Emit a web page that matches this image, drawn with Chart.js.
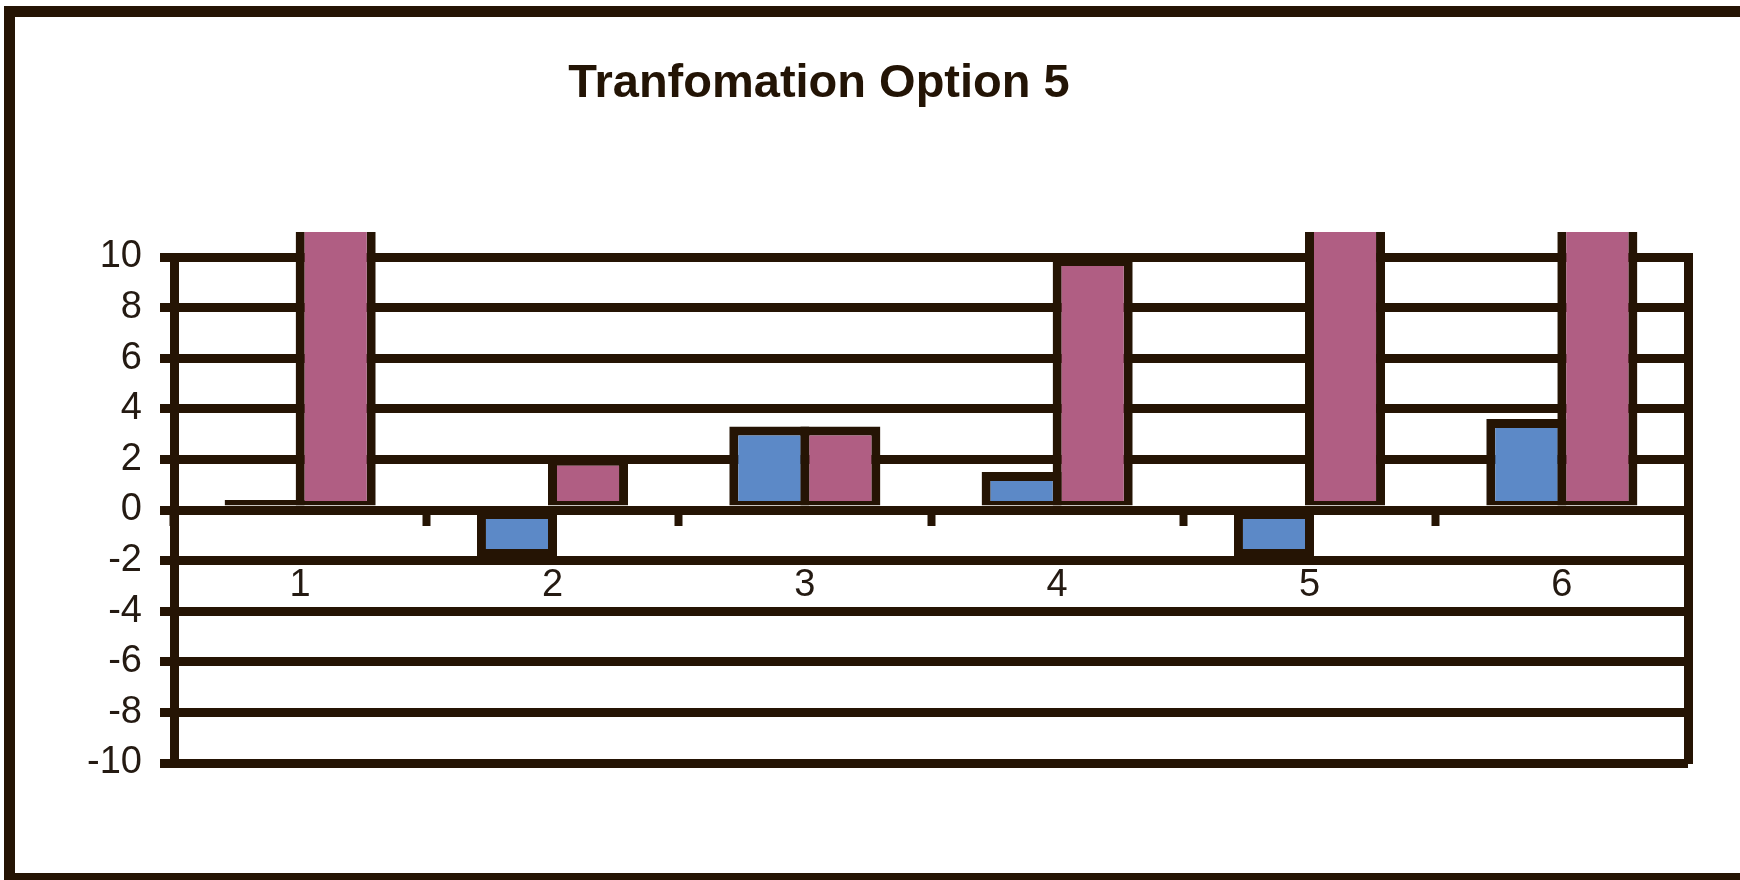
<!DOCTYPE html>
<html>
<head>
<meta charset="utf-8">
<title>Tranfomation Option 5</title>
<script src="https://cdn.jsdelivr.net/npm/chart.js@4/dist/chart.umd.min.js"></script>
<style>
    html, body { margin: 0; padding: 0; background: #ffffff; overflow: hidden; }
    #frame {
        position: absolute; left: 4px; top: 6px;
        width: 1800px; height: 878px;
        border: 11px solid #251404;
        box-sizing: border-box;
        background: #ffffff;
    }
    #optionChart { position: absolute; left: 0; top: 0; }
</style>
</head>
<body>
<div id="frame"></div>
<canvas id="optionChart" width="1740" height="880"></canvas>

<script>
// chart data
const titleText = 'Tranfomation Option 5';
const categories = ['1', '2', '3', '4', '5', '6'];
const series1 = [0.4, -1.9, 3.3, 1.5, -1.9, 3.6];
const series2 = [12, 2.1, 3.3, 10, 12, 12];
const yTickValues = [-10, -8, -6, -4, -2, 0, 2, 4, 6, 8, 10];

const ink = '#251404';
const labelFont = { family: "'Liberation Sans', Arial, sans-serif", size: 38 };

// Excel centres the outline on the bar edge; at the zero line only half of it shows
function barBorder(context) {
    const v = context.raw;
    if (v >= 0) return { top: 9, left: 9, right: 9, bottom: 4.5 };
    return { top: 4.5, left: 9, right: 9, bottom: 9 };
}

// title sits left of centre in the original, so draw it ourselves
const titlePlugin = {
    id: 'offsetTitle',
    afterDraw(chart) {
        const ctx = chart.ctx;
        ctx.save();
        ctx.font = "bold 47px 'Liberation Sans', Arial, sans-serif";
        ctx.fillStyle = '#231405';
        ctx.textAlign = 'center';
        ctx.textBaseline = 'alphabetic';
        ctx.fillText(titleText, 819, 97);
        ctx.restore();
    }
};

function createOptionChart() {
    const ctx = document.getElementById('optionChart').getContext('2d');

    new Chart(ctx, {
        type: 'bar',
        data: {
            labels: categories,
            datasets: [{
                label: 'Series1',
                data: series1,
                backgroundColor: '#5C89C7',
                borderColor: ink,
                borderWidth: barBorder,
                borderSkipped: false,
                yAxisID: 'y',
                clip: { left: 0, right: 0, top: 25, bottom: 0 }
            },
            {
                label: 'Series2',
                data: series2,
                backgroundColor: '#B05E83',
                borderColor: ink,
                borderWidth: barBorder,
                borderSkipped: false,
                yAxisID: 'y',
                clip: { left: 0, right: 0, top: 25, bottom: 0 }
            }]
        },
        options: {
            responsive: false,
            devicePixelRatio: 1,
            animation: false,
            categoryPercentage: 0.563,
            barPercentage: 1.127,
            layout: {
                padding: { top: 257, bottom: 117, left: 0, right: 52 }
            },
            plugins: {
                legend: { display: false },
                tooltip: { enabled: false },
                title: { display: false }
            },
            scales: {
                x: {
                    position: { y: 0 },
                    offset: true,
                    grid: {
                        offset: true,
                        drawOnChartArea: false,
                        drawTicks: true,
                        tickLength: 16,
                        tickWidth: 8,
                        tickColor: ink
                    },
                    border: { display: false },
                    ticks: {
                        color: '#241a12',
                        font: labelFont,
                        padding: 37,
                        maxRotation: 0
                    }
                },
                y: {
                    position: 'left',
                    min: -10,
                    max: 10,
                    afterBuildTicks: (scale) => {
                        scale.ticks = yTickValues.map(v => ({ value: v }));
                    },
                    afterFit: (scale) => { scale.width = 174; },
                    grid: {
                        color: ink,
                        lineWidth: 9,
                        tickLength: 14
                    },
                    border: { display: true, color: ink, width: 9 },
                    ticks: {
                        color: '#241a12',
                        font: labelFont,
                        padding: 18
                    }
                },
                y2: {
                    position: 'right',
                    min: -10,
                    max: 10,
                    grid: { drawOnChartArea: false, drawTicks: false },
                    border: { display: true, color: ink, width: 9 },
                    ticks: { display: false },
                    afterFit: (scale) => { scale.width = 0; }
                }
            }
        },
        plugins: [titlePlugin]
    });
}

document.addEventListener('DOMContentLoaded', () => {
    createOptionChart();
});
</script>
</body>
</html>
